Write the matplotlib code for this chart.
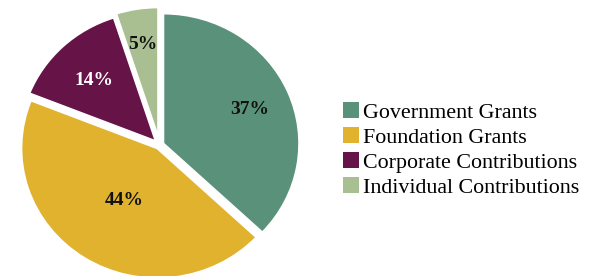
import numpy as np
import matplotlib
matplotlib.use("Agg")
import matplotlib.pyplot as plt
from matplotlib.patches import Patch

categories = ["Government Grants", "Foundation Grants", "Corporate Contributions", "Individual Contributions"]
values = [37, 44, 14, 5]
colors = ["#5A917A", "#E0B22E", "#661447", "#A9BF92"]
label_colors = ["#111111", "#111111", "#FFFFFF", "#111111"]
label_dist = [0.69, 0.46, 0.66, 0.74]
explode = [0.03, 0.03, 0.04, 0.06]

plt.rcParams['font.family'] = ['Liberation Serif', 'DejaVu Serif']

fig = plt.figure(figsize=(5.9, 2.76), dpi=100)
W, H = 590, 276
cx, cy = 159.5, 276 - 145
rx, ry = 136, 130
half = 1.06
ax = fig.add_axes([(cx - half * rx) / W, (cy - half * ry) / H, 2 * half * rx / W, 2 * half * ry / H])

wedges, _ = ax.pie(values, colors=colors, startangle=90, counterclock=False,
                   explode=explode, radius=1.0,
                   wedgeprops=dict(edgecolor='white', linewidth=1.5))
ax.set_xlim(-half, half)
ax.set_ylim(-half, half)
ax.set_aspect('auto')
ax.axis('off')
for w, v, c, d in zip(wedges, values, label_colors, label_dist):
    ang = np.deg2rad((w.theta1 + w.theta2) / 2)
    x0, y0 = w.center
    ax.text(x0 + d * np.cos(ang), y0 + d * np.sin(ang), f"{v}%",
            ha='center', va='center_baseline', fontsize=14, fontweight='bold', color=c)

handles = [Patch(facecolor=c, edgecolor='none') for c in colors]
fig.legend(handles, categories, loc='center left', bbox_to_anchor=(343 / W, 1 - 150 / H),
           frameon=False, fontsize=15.8, handlelength=0.73, handleheight=0.73,
           handletextpad=0.18, labelspacing=0.2, borderpad=0, borderaxespad=0)

fig.savefig("out.png", dpi=100)
